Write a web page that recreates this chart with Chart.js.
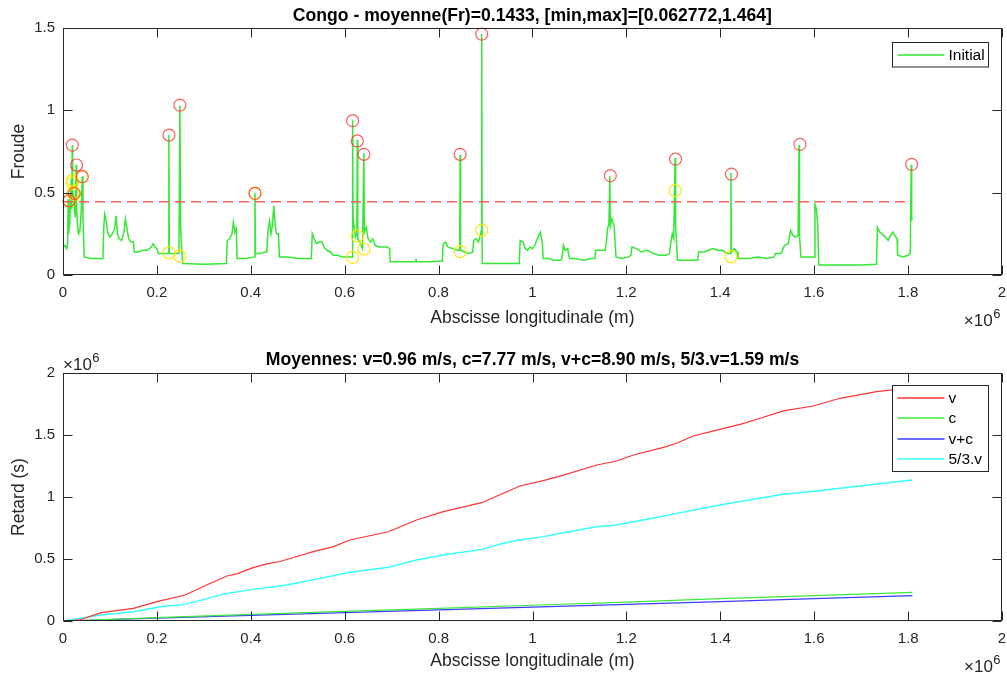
<!DOCTYPE html>
<html>
<head>
<meta charset="utf-8">
<script src="https://cdn.jsdelivr.net/npm/chart.js"></script>
<style>
body { margin: 0; background: #fff; overflow: hidden; }
#wrap { position: relative; width: 1007px; height: 675px; overflow: hidden; }
canvas { position: absolute; left: 0; }
</style>
</head>
<body>
<div id="wrap">
  <canvas id="chartFroude" width="1009" height="337" style="top:0"></canvas>
  <canvas id="chartRetard" width="1007" height="338" style="top:337px"></canvas>
</div>
<script>
// ---- Froude le long du fleuve (abscisse en 1e6 m) ----
const froudeX = [0.000,0.004,0.008,0.010,0.011,0.012,0.014,0.016,0.0175,0.0185,0.019,0.0198,0.0205,0.022,0.024,0.026,0.028,0.029,0.031,0.033,0.036,0.039,0.041,0.0425,0.045,0.060,0.075,0.085,
  0.087,0.089,0.092,0.095,0.100,0.105,0.110,0.113,0.116,0.120,0.125,0.130,0.133,0.137,0.140,0.145,0.150,0.152,0.160,0.170,0.180,0.188,0.192,0.196,0.200,0.203,0.215,0.224,0.2255,0.2265,0.235,0.247,
  0.249,0.2505,0.252,0.255,0.300,0.348,0.350,0.355,0.360,0.363,0.366,0.369,0.371,0.390,0.408,0.409,0.410,0.420,0.430,0.434,0.437,0.440,0.443,0.446,0.449,0.452,0.455,0.459,0.461,0.480,0.500,0.520,
  0.529,0.531,0.535,0.540,0.545,0.552,0.556,0.562,0.570,0.575,0.585,0.595,0.605,0.614,0.6165,0.617,0.618,0.620,0.623,0.626,0.627,0.628,0.632,0.638,0.641,0.642,0.646,0.650,0.655,0.660,0.665,0.672,
  0.680,0.690,0.696,0.697,0.720,0.750,0.752,0.753,0.780,0.808,0.810,0.815,0.820,0.830,0.840,0.845,0.846,0.847,0.855,0.865,0.873,0.875,0.880,0.885,0.889,0.891,0.892,0.893,0.920,0.950,0.972,0.974,
  0.980,0.985,0.990,0.995,1.000,1.005,1.012,1.017,1.021,1.023,1.035,1.045,1.060,1.063,1.066,1.070,1.075,1.079,1.090,1.110,1.125,1.133,1.135,1.145,1.155,1.158,1.160,1.163,1.165,1.166,1.169,1.174,
  1.178,1.190,1.205,1.210,1.212,1.222,1.232,1.245,1.258,1.270,1.285,1.292,1.295,1.298,1.301,1.304,1.305,1.309,1.330,1.352,1.354,1.365,1.375,1.385,1.395,1.405,1.415,1.422,1.423,1.424,1.430,1.436,
  1.438,1.460,1.480,1.500,1.515,1.518,1.530,1.537,1.545,1.550,1.555,1.560,1.566,1.568,1.569,1.572,1.590,1.600,1.602,1.605,1.608,1.610,1.650,1.700,1.733,1.735,1.740,1.745,1.752,1.758,1.763,1.768,
  1.772,1.777,1.778,1.790,1.800,1.805,1.807,1.808,1.809];
const froudeY = [0.17,0.18,0.16,0.20,0.46,0.25,0.30,0.45,0.58,0.40,0.55,0.79,0.50,0.49,0.42,0.35,0.67,0.40,0.30,0.25,0.27,0.40,0.60,0.35,0.11,0.10,0.10,0.10,
  0.30,0.37,0.33,0.26,0.23,0.25,0.28,0.36,0.25,0.22,0.21,0.26,0.34,0.27,0.22,0.20,0.20,0.14,0.14,0.15,0.15,0.17,0.19,0.17,0.16,0.13,0.13,0.13,0.85,0.13,0.13,0.13,
  1.03,0.30,0.20,0.07,0.065,0.07,0.21,0.22,0.25,0.32,0.26,0.28,0.10,0.10,0.11,0.50,0.13,0.13,0.14,0.14,0.28,0.33,0.25,0.30,0.42,0.30,0.25,0.25,0.11,0.11,0.10,0.10,
  0.10,0.25,0.22,0.19,0.20,0.20,0.17,0.15,0.14,0.12,0.12,0.11,0.11,0.11,0.11,0.94,0.35,0.30,0.23,0.25,0.82,0.22,0.20,0.16,0.74,0.26,0.29,0.22,0.20,0.22,0.18,0.17,
  0.17,0.17,0.16,0.08,0.08,0.08,0.10,0.08,0.08,0.085,0.19,0.20,0.17,0.16,0.15,0.15,0.73,0.15,0.14,0.13,0.14,0.21,0.22,0.20,0.24,0.27,1.464,0.07,0.07,0.07,0.07,0.21,
  0.20,0.16,0.15,0.17,0.16,0.18,0.23,0.26,0.20,0.10,0.10,0.09,0.09,0.10,0.18,0.15,0.16,0.10,0.10,0.09,0.10,0.10,0.15,0.15,0.15,0.21,0.28,0.31,0.60,0.30,0.34,0.30,
  0.11,0.10,0.11,0.12,0.17,0.16,0.14,0.15,0.13,0.12,0.12,0.13,0.20,0.25,0.22,0.71,0.30,0.09,0.09,0.09,0.14,0.14,0.15,0.16,0.15,0.15,0.13,0.13,0.62,0.14,0.16,0.14,
  0.10,0.10,0.11,0.10,0.11,0.13,0.13,0.18,0.19,0.27,0.24,0.23,0.24,0.79,0.24,0.11,0.11,0.11,0.43,0.40,0.30,0.06,0.06,0.06,0.065,0.29,0.26,0.25,0.23,0.21,0.24,0.26,
  0.24,0.22,0.12,0.11,0.12,0.13,0.67,0.33,0.35];

// pics détectés (cercles rouges) et points associés (cercles jaunes)
const picsRougeX = [0.0128,0.0198,0.024,0.029,0.041,0.2258,0.249,0.409,0.617,0.627,0.641,0.846,0.892,1.166,1.305,1.424,1.570,1.808];
const picsRougeY = [0.451,0.789,0.496,0.668,0.597,0.850,1.032,0.496,0.937,0.814,0.733,0.733,1.463,0.603,0.704,0.613,0.793,0.672];
const picsJauneX = [0.0128,0.0198,0.0198,0.022,0.024,0.041,0.226,0.249,0.409,0.617,0.627,0.641,0.846,0.892,1.304,1.423];
const picsJauneY = [0.451,0.577,0.560,0.500,0.490,0.597,0.135,0.115,0.496,0.107,0.237,0.158,0.142,0.273,0.512,0.111];

const seuilX = [0, 1.808];
const seuilY = [0.445, 0.445];

// ---- Retards cumulés (1e6 s) ----
const retardVX = [0,0.036,0.082,0.15,0.2,0.26,0.306,0.349,0.37,0.405,0.434,0.462,0.498,0.533,0.576,0.611,0.693,0.753,0.81,0.892,0.938,0.973,1.023,1.066,1.137,1.179,1.215,1.279,1.307,1.342,1.399,1.442,1.485,1.534,1.598,1.655,1.733,1.776,1.809];
const retardVY = [0,0.01,0.067,0.102,0.156,0.21,0.29,0.363,0.38,0.43,0.46,0.48,0.52,0.56,0.60,0.653,0.72,0.815,0.882,0.954,1.03,1.089,1.132,1.177,1.258,1.29,1.339,1.40,1.433,1.492,1.546,1.586,1.635,1.694,1.734,1.796,1.85,1.868,1.885];
const retardCX = [0,0.2,0.4,0.6,0.8,1.0,1.2,1.4,1.6,1.809];
const retardCY = [0,0.028,0.053,0.078,0.102,0.127,0.153,0.18,0.205,0.231];
const retardVCX = [0,0.2,0.4,0.6,0.8,1.0,1.2,1.4,1.6,1.809];
const retardVCY = [0,0.023,0.046,0.068,0.09,0.112,0.134,0.157,0.18,0.204];
const retard53X = [0,0.079,0.15,0.207,0.26,0.349,0.405,0.476,0.547,0.611,0.693,0.753,0.81,0.892,0.938,0.973,1.023,1.066,1.137,1.179,1.215,1.272,1.307,1.399,1.534,1.605,1.733,1.809];
const retard53Y = [0,0.048,0.075,0.115,0.134,0.223,0.255,0.29,0.344,0.393,0.433,0.492,0.532,0.578,0.627,0.653,0.68,0.712,0.76,0.774,0.80,0.841,0.868,0.935,1.022,1.048,1.105,1.137];

const legendeRetard = ['v', 'c', 'v+c', '5/3.v'];

function pts(xs, ys) { return xs.map((x, i) => ({ x: x, y: ys[i] })); }

const FONT = '"Liberation Sans", Arial, sans-serif';
const AXE = '#262626';
const VERT = '#35e835';

// cadre, graduations intérieures, titres et légende façon MATLAB
const matlabAxes = {
  id: 'matlabAxes',
  afterDraw(chart, args, o) {
    const ctx = chart.ctx, a = chart.chartArea;
    const sx = chart.scales.x, sy = chart.scales.y;
    const L = Math.round(a.left) + 0.5, R = Math.round(a.right) - 0.5;
    const T = Math.round(a.top) + 0.5, B = Math.round(a.bottom) - 0.5;
    ctx.save();
    ctx.strokeStyle = AXE;
    ctx.lineWidth = 1;
    ctx.beginPath();
    sx.ticks.forEach(t => {
      const p = Math.round(sx.getPixelForValue(t.value)) + 0.5;
      ctx.moveTo(p, B); ctx.lineTo(p, B - 9);
      ctx.moveTo(p, T); ctx.lineTo(p, T + 9);
    });
    sy.ticks.forEach(t => {
      const p = Math.round(sy.getPixelForValue(t.value)) + 0.5;
      ctx.moveTo(L, p); ctx.lineTo(L + 9, p);
      ctx.moveTo(R, p); ctx.lineTo(R - 9, p);
    });
    ctx.stroke();
    ctx.strokeRect(L, T, R - L, B - T);

    const cx = (a.left + a.right) / 2;
    ctx.textAlign = 'center';
    ctx.textBaseline = 'middle';
    ctx.fillStyle = '#000';
    ctx.font = 'bold 17.6px ' + FONT;
    ctx.fillText(o.title, cx, o.titleY);

    ctx.fillStyle = AXE;
    ctx.font = '17.5px ' + FONT;
    ctx.fillText(o.xLabel, cx, a.bottom + o.xLabelDy);
    ctx.save();
    ctx.translate(19, (a.top + a.bottom) / 2);
    ctx.rotate(-Math.PI / 2);
    ctx.fillText(o.yLabel, 0, 0);
    ctx.restore();

    // facteurs x10^6
    function expo(x, y) {
      ctx.textAlign = 'left';
      ctx.font = '17px ' + FONT;
      ctx.fillText('\u00d710', x, y);
      const w = ctx.measureText('\u00d710').width;
      ctx.font = '13px ' + FONT;
      ctx.fillText('6', x + w + 0.5, y - 7);
    }
    expo(a.right - 38, a.bottom + 46);
    if (o.expoY) expo(a.left, a.top - 8);

    // légende
    const lw = 96, lh = 4 + 20.5 * o.legend.length;
    const lx = Math.round(a.right) - 14 - lw + 0.5, ly = Math.round(a.top) + o.legendDy + 0.5;
    ctx.fillStyle = '#fff';
    ctx.fillRect(lx, ly, lw, lh);
    ctx.strokeStyle = AXE;
    ctx.strokeRect(lx, ly, lw, lh);
    ctx.font = '15.5px ' + FONT;
    ctx.textAlign = 'left';
    o.legend.forEach((it, i) => {
      const y = Math.round(ly + 12 + 20.5 * i);
      ctx.strokeStyle = it.color;
      ctx.lineWidth = 1.5;
      ctx.beginPath();
      ctx.moveTo(lx + 5, y);
      ctx.lineTo(lx + 52, y);
      ctx.stroke();
      ctx.fillStyle = '#000';
      ctx.fillText(it.label, lx + 56, y + 1);
    });
    ctx.restore();
  }
};

function fmt(v) { return String(parseFloat(Number(v).toFixed(1))); }

function makeScales(ymax, ystep, xHeight) {
  const tickFont = { family: FONT, size: 15 };
  return {
    x: {
      type: 'linear', min: 0, max: 2,
      grid: { display: false, drawTicks: false },
      border: { display: false },
      ticks: { stepSize: 0.2, callback: fmt, font: tickFont, color: AXE, padding: 9, maxRotation: 0, autoSkip: false },
      afterFit: s => { s.height = xHeight; s.paddingLeft = 0; s.paddingRight = 0; }
    },
    y: {
      type: 'linear', min: 0, max: ymax,
      grid: { display: false, drawTicks: false },
      border: { display: false },
      ticks: { stepSize: ystep, callback: fmt, font: tickFont, color: AXE, padding: 8 },
      afterFit: s => { s.width = 63; s.paddingTop = 0; s.paddingBottom = 0; }
    }
  };
}

const common = {
  responsive: false,
  animation: false,
  events: [],
  plugins: { legend: { display: false }, tooltip: { enabled: false } },
  elements: { point: { radius: 0 }, line: { tension: 0 } }
};

// les cercles imposent ~7 px de marge à droite : le canevas du haut est un peu plus large
new Chart(document.getElementById('chartFroude').getContext('2d'), {
  type: 'line',
  data: {
    datasets: [
      { data: pts(froudeX, froudeY), borderColor: VERT, borderWidth: 1.5, pointRadius: 0, order: 4 },
      { data: pts(seuilX, seuilY), borderColor: 'rgba(255,85,85,0.95)', borderWidth: 1.6, borderDash: [10, 6], pointRadius: 0, order: 3 },
      { data: pts(picsJauneX, picsJauneY), showLine: false, pointRadius: 6, pointBorderWidth: 1.2, pointBorderColor: 'rgba(255,230,0,0.95)', pointBackgroundColor: 'rgba(0,0,0,0)', clip: 10, order: 2 },
      { data: pts(picsRougeX, picsRougeY), showLine: false, pointRadius: 6, pointBorderWidth: 1.2, pointBorderColor: 'rgba(255,40,40,0.75)', pointBackgroundColor: 'rgba(0,0,0,0)', clip: 10, order: 1 }
    ]
  },
  options: Object.assign({}, common, {
    layout: { padding: { left: 0, top: 28, right: 0, bottom: 0 } },
    scales: makeScales(1.5, 0.5, 62),
    plugins: Object.assign({}, common.plugins, {
      matlabAxes: {
        title: 'Congo - moyenne(Fr)=0.1433, [min,max]=[0.062772,1.464]',
        titleY: 16, xLabel: 'Abscisse longitudinale (m)', xLabelDy: 43, yLabel: 'Froude',
        expoY: false, legendDy: 14,
        legend: [{ label: 'Initial', color: VERT }]
      }
    })
  }),
  plugins: [matlabAxes]
});

const couleursRetard = ['#ff3333', '#3ce83c', '#3d3dff', '#33ffff'];

new Chart(document.getElementById('chartRetard').getContext('2d'), {
  type: 'line',
  data: {
    datasets: [
      { label: legendeRetard[0], data: pts(retardVX, retardVY), borderColor: couleursRetard[0], borderWidth: 1.2 },
      { label: legendeRetard[1], data: pts(retardCX, retardCY), borderColor: couleursRetard[1], borderWidth: 1.2 },
      { label: legendeRetard[2], data: pts(retardVCX, retardVCY), borderColor: couleursRetard[2], borderWidth: 1.2 },
      { label: legendeRetard[3], data: pts(retard53X, retard53Y), borderColor: couleursRetard[3], borderWidth: 1.4 }
    ]
  },
  options: Object.assign({}, common, {
    layout: { padding: { left: 0, top: 36, right: 5, bottom: 0 } },
    scales: makeScales(2, 0.5, 54),
    plugins: Object.assign({}, common.plugins, {
      matlabAxes: {
        title: 'Moyennes: v=0.96 m/s, c=7.77 m/s, v+c=8.90 m/s, 5/3.v=1.59 m/s',
        titleY: 23, xLabel: 'Abscisse longitudinale (m)', xLabelDy: 40, yLabel: 'Retard (s)',
        expoY: true, legendDy: 12,
        legend: legendeRetard.map((l, i) => ({ label: l, color: couleursRetard[i] }))
      }
    })
  }),
  plugins: [matlabAxes]
});
</script>
</body>
</html>
